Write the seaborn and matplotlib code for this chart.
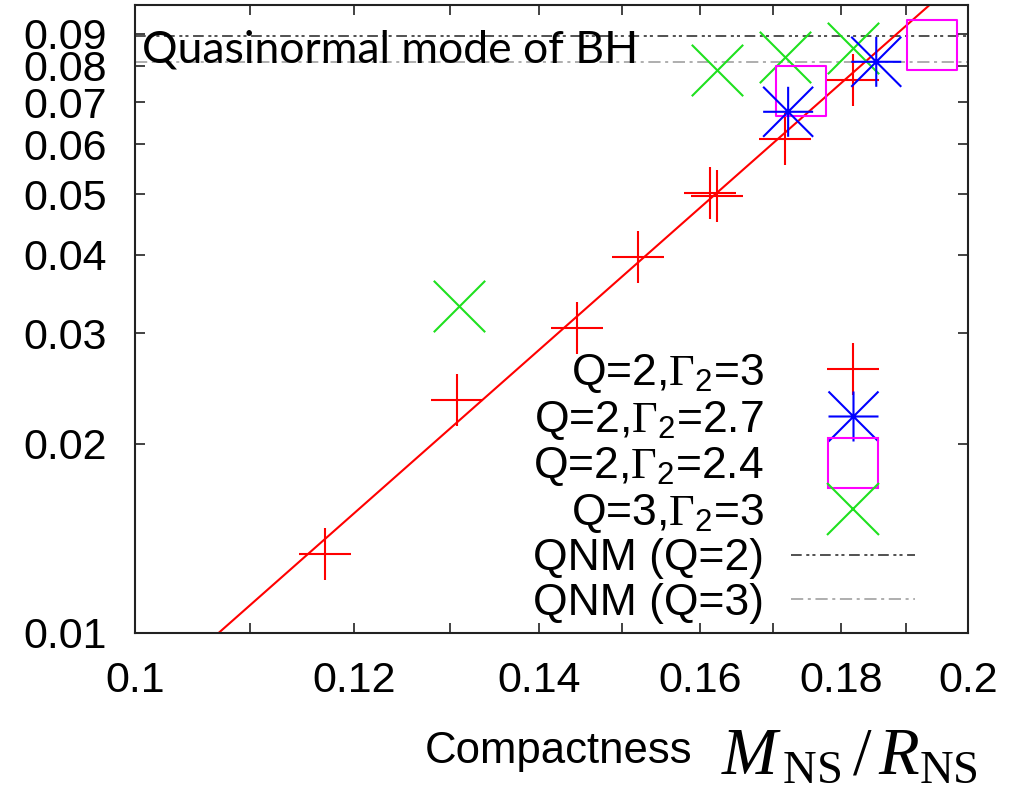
import matplotlib
matplotlib.use("Agg")
import matplotlib.pyplot as plt
from matplotlib.lines import Line2D
from matplotlib.path import Path
from matplotlib.ticker import FixedLocator, FixedFormatter, NullLocator
import seaborn as sns

# Compactness M/R and frequency of each model family
q2_g30_c = [0.1171, 0.1307, 0.1444, 0.1520, 0.1614, 0.1623, 0.1718, 0.1818]
q2_g30_f = [0.01336, 0.0235, 0.0306, 0.0397, 0.0502, 0.0497, 0.0612, 0.0760]
q2_g27_c = [0.1722, 0.1853]
q2_g27_f = [0.0676, 0.0812]
q2_g24_c = [0.1740, 0.1941]
q2_g24_f = [0.0730, 0.0865]
q3_g30_c = [0.1309, 0.1623, 0.1717, 0.1818]
q3_g30_f = [0.0332, 0.0788, 0.0827, 0.0853]

# power-law fit through the Q=2, Gamma_2=3 sequence (end points)
fit_c = [0.1072, 0.1937]
fit_f = [0.010, 0.100]

# black-hole quasinormal mode frequencies
qnm_c = [0.10, 0.20]
qnm_q2 = [0.0893, 0.0893]
qnm_q3 = [0.0812, 0.0812]

x_ticks = [0.10, 0.11, 0.12, 0.13, 0.14, 0.15, 0.16, 0.17, 0.18, 0.19, 0.20]
x_labels = ["0.1", "", "0.12", "", "0.14", "", "0.16", "", "0.18", "", "0.2"]
y_ticks = [0.01, 0.02, 0.03, 0.04, 0.05, 0.06, 0.07, 0.08, 0.09]
y_labels = ["0.01", "0.02", "0.03", "0.04", "0.05", "0.06", "0.07", "0.08", "0.09"]

labels = [r"Q=2,$\Gamma_{\mathsf{2}}$=3", r"Q=2,$\Gamma_{\mathsf{2}}$=2.7",
          r"Q=2,$\Gamma_{\mathsf{2}}$=2.4", r"Q=3,$\Gamma_{\mathsf{2}}$=3",
          "QNM (Q=2)", "QNM (Q=3)"]

RED, BLUE, MAGENTA, GREEN = "#ff0000", "#0000ff", "#ff00ff", "#1fe01f"
DARK, GREY = "#222222", "#999999"

sns.set_theme(style="ticks")
plt.rcParams["font.family"] = ["Liberation Sans", "DejaVu Sans"]
plt.rcParams["text.color"] = "black"
plt.rcParams["mathtext.fontset"] = "custom"
plt.rcParams["mathtext.rm"] = "Liberation Serif"
plt.rcParams["mathtext.it"] = "Liberation Serif:italic"
plt.rcParams["mathtext.bf"] = "Liberation Serif:bold"
plt.rcParams["mathtext.sf"] = "Liberation Sans"

fig = plt.figure(figsize=(10.09, 7.89), dpi=100)
ax = fig.add_axes([135 / 1009, 156 / 789, 833 / 1009, 628 / 789])
ax.set_xscale("log")
ax.set_yscale("log")

# gnuplot-style asterisk: a plus and a cross overlaid
star_path = Path(
    [(-1, 0), (1, 0), (0, -1), (0, 1), (-1, -1), (1, 1), (-1, 1), (1, -1)],
    [Path.MOVETO, Path.LINETO] * 4,
)

ms_plus, ms_star, ms_sq, ms_x = 38, 36, 36, 37
mlw = 1.5

sns.lineplot(x=fit_c, y=fit_f, color=RED, linewidth=1.5, ax=ax, zorder=2)
sns.lineplot(x=qnm_c, y=qnm_q2, color=DARK, linewidth=1.1, ax=ax,
             linestyle=(0, (7, 3, 2, 2, 2, 3)), zorder=1)
sns.lineplot(x=qnm_c, y=qnm_q3, color=GREY, linewidth=1.1, ax=ax,
             linestyle=(0, (8, 3, 2, 3)), zorder=1)

sns.scatterplot(x=q2_g30_c, y=q2_g30_f, marker="+", s=ms_plus ** 2,
                color=RED, linewidth=mlw, ax=ax, legend=False, zorder=3)
sns.scatterplot(x=q3_g30_c, y=q3_g30_f, marker="x", s=ms_x ** 2,
                color=GREEN, linewidth=mlw, ax=ax, legend=False, zorder=3)
sns.scatterplot(x=q2_g24_c, y=q2_g24_f, marker="s", s=ms_sq ** 2,
                facecolor="none", edgecolor=MAGENTA, linewidth=mlw,
                ax=ax, legend=False, zorder=4)
sns.scatterplot(x=q2_g27_c, y=q2_g27_f, marker=star_path, s=ms_star ** 2,
                facecolor="none", edgecolor=BLUE, linewidth=mlw,
                ax=ax, legend=False, zorder=5)

ax.set_xlim(0.1, 0.2)
ax.set_ylim(0.01, 0.1)
ax.xaxis.set_major_locator(FixedLocator(x_ticks))
ax.xaxis.set_major_formatter(FixedFormatter(x_labels))
ax.xaxis.set_minor_locator(NullLocator())
ax.yaxis.set_major_locator(FixedLocator(y_ticks))
ax.yaxis.set_major_formatter(FixedFormatter(y_labels))
ax.yaxis.set_minor_locator(NullLocator())
ax.tick_params(which="both", direction="in", top=True, right=True,
               length=7, width=1.2, color=DARK, labelsize=31, pad=20,
               labelcolor="black")
for sp in ax.spines.values():
    sp.set_linewidth(1.5)
    sp.set_color(DARK)
    sp.set_visible(True)

ax.text(0.0084, 0.909, "Quasinormal mode of BH", transform=ax.transAxes,
        fontsize=32, family=["Lato", "DejaVu Sans"], va="baseline",
        ha="left", color="black")

handles = [
    Line2D([], [], linestyle="None", marker="+", markersize=ms_plus,
           mew=mlw, color=RED),
    Line2D([], [], linestyle="None", marker=star_path, markersize=ms_star,
           mew=mlw, mec=BLUE, mfc="none"),
    Line2D([], [], linestyle="None", marker="s", markersize=ms_sq,
           mew=mlw, mec=MAGENTA, mfc="none"),
    Line2D([], [], linestyle="None", marker="x", markersize=ms_x,
           mew=mlw, color=GREEN),
    Line2D([], [], color=DARK, linewidth=1.1,
           linestyle=(0, (7, 3, 2, 2, 2, 3))),
    Line2D([], [], color=GREY, linewidth=1.1, linestyle=(0, (8, 3, 2, 3))),
]
leg = ax.legend(handles, labels, loc="upper right",
                bbox_to_anchor=(915 / 1009, 1 - 352 / 789),
                bbox_transform=fig.transFigure, frameon=False,
                markerfirst=False, fontsize=32, handlelength=2.8,
                handletextpad=0.6, labelspacing=0.08, borderpad=0,
                borderaxespad=0, numpoints=1, labelcolor="black")

fig.text(425 / 1009, 1 - 763 / 789, "Compactness", fontsize=31.5,
         va="baseline", ha="left", color="black")
fig.text(978 / 1009, 1 - 774 / 789, r"$M_{\,\mathrm{NS}}\,/\,R_{\mathrm{NS}}$",
         fontsize=48, va="baseline", ha="right", color="black")

fig.savefig("out.png", dpi=100)
